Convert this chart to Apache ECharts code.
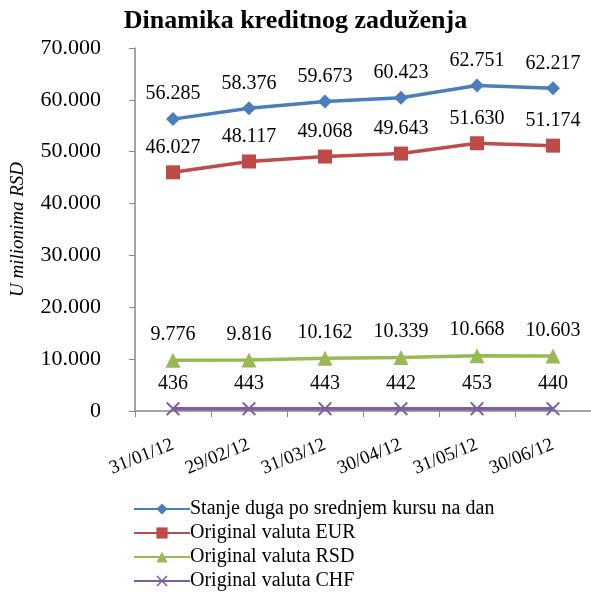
<!DOCTYPE html>
<html>
<head>
<meta charset="utf-8">
<script src="https://cdn.jsdelivr.net/npm/echarts@6/dist/echarts.min.js"></script>
<style>html,body{margin:0;padding:0;background:#fff}#chart{width:591px;height:603px}</style>
</head>
<body>
<div id="chart"></div>
<script>
// Dinamika kreditnog zaduzenja
var dom = document.getElementById("chart");
var myChart = echarts.init(dom);

var categories = ['31/01/12', '29/02/12', '31/03/12', '30/04/12', '31/05/12', '30/06/12'];
var seriesNames = [
    'Stanje duga po srednjem kursu na dan',
    'Original valuta EUR',
    'Original valuta RSD',
    'Original valuta CHF'
];
var stanjeDuga = [56285, 58376, 59673, 60423, 62751, 62217];
var valutaEUR = [46027, 48117, 49068, 49643, 51630, 51174];
var valutaRSD = [9776, 9816, 10162, 10339, 10668, 10603];
var valutaCHF = [436, 443, 443, 442, 453, 440];

var colors = ['#4A7EBB', '#BE4B48', '#98B954', '#7D5FA0'];
var symbols = [
    'diamond',
    'rect',
    'triangle',
    'path://M0,1L1,0L5,4L9,0L10,1L6,5L10,9L9,10L5,6L1,10L0,9L4,5Z'
];
var symbolSizes = [14, 14, 15, 14];
var font = '"Liberation Serif", "Times New Roman", serif';

function fmt(v) {
    return String(v).replace(/\B(?=(\d{3})+(?!\d))/g, '.');
}

function makeSeries(i, data) {
    return {
        name: seriesNames[i],
        type: 'line',
        data: data,
        symbol: symbols[i],
        symbolSize: symbolSizes[i],
        itemStyle: { color: colors[i] },
        lineStyle: { width: 3.5, color: colors[i] },
        label: {
            show: true,
            position: 'top',
            distance: 8,
            color: '#000',
            fontFamily: font,
            fontSize: 20,
            formatter: function (p) { return fmt(p.value); }
        },
        emphasis: { disabled: true },
        animation: false
    };
}

var option = {
    textStyle: { fontFamily: font },
    title: {
        text: 'Dinamika kreditnog zaduženja',
        left: 'center',
        top: 3,
        textStyle: { fontFamily: font, fontSize: 26, fontWeight: 'bold', color: '#000' }
    },
    legend: {
        orient: 'vertical',
        left: 128,
        top: 494,
        itemGap: 4,
        itemWidth: 56,
        itemHeight: 14,
        textStyle: { fontFamily: font, fontSize: 20, color: '#000', padding: [0, 0, 0, -5] },
        data: seriesNames
    },
    grid: { left: 126, right: 0, top: 48, bottom: 192, containLabel: false },
    xAxis: {
        type: 'category',
        data: categories,
        boundaryGap: true,
        axisLine: { lineStyle: { color: '#868686', width: 1.5 } },
        axisTick: { show: true, length: 6, lineStyle: { color: '#868686' } },
        axisLabel: { rotate: 22, color: '#000', fontFamily: font, fontSize: 19, margin: 33 }
    },
    yAxis: {
        type: 'value',
        min: 0,
        max: 70000,
        interval: 10000,
        name: 'U milionima RSD',
        nameLocation: 'middle',
        nameGap: 108,
        nameTextStyle: { fontFamily: font, fontSize: 19, fontStyle: 'italic', color: '#000' },
        splitLine: { show: false },
        axisLine: { show: true, lineStyle: { color: '#868686', width: 1.5 } },
        axisTick: { show: true, length: 6, lineStyle: { color: '#868686' } },
        axisLabel: {
            color: '#000', fontFamily: font, fontSize: 22, margin: 34,
            formatter: function (v) { return fmt(v); }
        }
    },
    series: [
        makeSeries(0, stanjeDuga),
        makeSeries(1, valutaEUR),
        makeSeries(2, valutaRSD),
        makeSeries(3, valutaCHF)
    ]
};

myChart.setOption(option);
</script>
</body>
</html>
